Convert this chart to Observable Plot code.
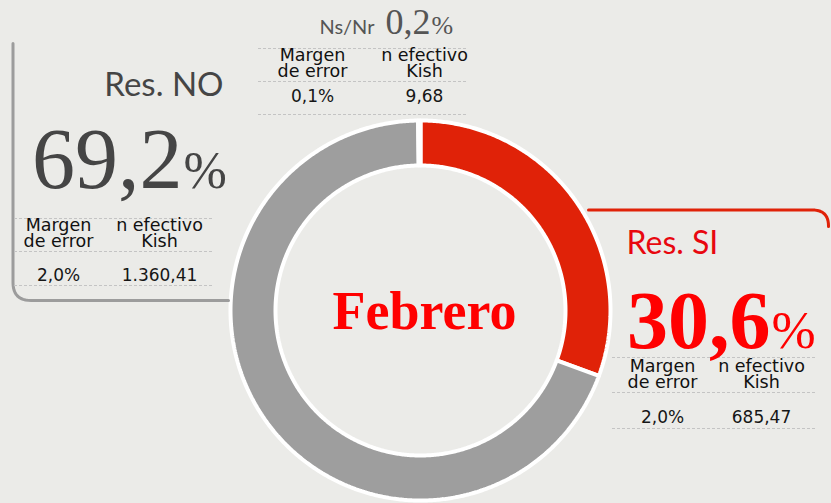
<!DOCTYPE html>
<html><head><meta charset="utf-8">
<script src="https://cdn.jsdelivr.net/npm/d3@7"></script>
<script src="https://cdn.jsdelivr.net/npm/@observablehq/plot@0.6"></script>
<style>
html,body{margin:0;padding:0;background:#ebebe8;}
#chart{width:831px;height:503px;overflow:hidden;}
</style>
</head><body><div id="chart"></div>
<script>
// ---- data ----
const categories = ["Res. SI", "Res. NO", "Ns/Nr"];
const values = [30.6, 69.2, 0.2];
const valueLabels = ["30,6", "69,2", "0,2"];
const marginLabels = ["2,0%", "2,0%", "0,1%"];
const kishLabels = ["685,47", "1.360,41", "9,68"];
const sliceColors = ["#e02208", "#9e9e9e", "#ffffff"];
const centerLabel = "Febrero";
const headerLabels = ["Margen\nde error", "n efectivo\nKish"];

// ---- layout ----
const W = 831, H = 503;
const cx = 420, cy = 310, rOuter = 190, rInner = 145;
const boxes = {
  "Res. SI": {c1: 662, c2: 761, h2: 387, v: 422, dashes: [357, 392, 428], dx1: 612, dx2: 815,
              name: {x: 626, y: 253, anchor: "start"}, num: {x: 770, y: 347}, color: "#ff0000", nameColor: "#e8070f",
              nameSize: 32, numSize: 82, pctSize: 53, bold: true},
  "Res. NO": {c1: 58, c2: 159, h2: 246, v: 280, dashes: [218, 251, 285], dx1: 14, dx2: 214,
              name: {x: 223, y: 95, anchor: "end"}, num: {x: 182, y: 187}, color: "#454545", nameColor: "#454545",
              nameSize: 33, numSize: 86, pctSize: 52, bold: false},
  "Ns/Nr":   {c1: 312, c2: 424, h2: 76, v: 101, dashes: [48, 81, 114], dx1: 258, dx2: 466,
              name: {x: 374, y: 33, anchor: "end"}, num: {x: 430, y: 33}, color: "#555555", nameColor: "#555555",
              nameSize: 20, numSize: 36, pctSize: 26, bold: false}
};

const table = categories.map((c, i) => ({category: c, value: values[i], color: sliceColors[i]}));
const arcs = d3.pie().sort(null).value(d => d.value)(table);

function slicePoints(a) {
  const n = Math.max(2, Math.ceil((a.endAngle - a.startAngle) / (Math.PI / 360)));
  const pts = [];
  for (let k = 0; k <= n; k++) {
    const t = a.startAngle + (a.endAngle - a.startAngle) * k / n;
    pts.push({category: a.data.category, x: cx + rOuter * Math.sin(t), y: cy - rOuter * Math.cos(t)});
  }
  for (let k = n; k >= 0; k--) {
    const t = a.startAngle + (a.endAngle - a.startAngle) * k / n;
    pts.push({category: a.data.category, x: cx + rInner * Math.sin(t), y: cy - rInner * Math.cos(t)});
  }
  pts.push(pts[0]);
  return pts;
}

function cornerPath(points, r) {
  const [p0, p1, p2] = points;
  const out = [p0];
  const d1 = Math.hypot(p1[0]-p0[0], p1[1]-p0[1]), d2 = Math.hypot(p2[0]-p1[0], p2[1]-p1[1]);
  const a = [p1[0] - (p1[0]-p0[0]) * r / d1, p1[1] - (p1[1]-p0[1]) * r / d1];
  const b = [p1[0] + (p2[0]-p1[0]) * r / d2, p1[1] + (p2[1]-p1[1]) * r / d2];
  for (let k = 0; k <= 12; k++) {
    const t = k / 12;
    out.push([(1-t)*(1-t)*a[0] + 2*(1-t)*t*p1[0] + t*t*b[0], (1-t)*(1-t)*a[1] + 2*(1-t)*t*p1[1] + t*t*b[1]]);
  }
  out.push(p2);
  return out.map(([x, y]) => ({x, y}));
}

const leftFrame = cornerPath([[12.5, 43], [12.5, 300], [228, 300]], 18);
const rightFrame = cornerPath([[588, 209.5], [828, 209.5], [828, 226]], 16);

const marks = [];

arcs.forEach(a => {
  marks.push(Plot.line(slicePoints(a), {x: "x", y: "y", fill: a.data.color, stroke: "#ffffff", strokeWidth: 4, strokeLinejoin: "miter"}));
});

marks.push(Plot.line(leftFrame, {x: "x", y: "y", stroke: "#9c9c9c", strokeWidth: 3}));
marks.push(Plot.line(rightFrame, {x: "x", y: "y", stroke: "#e02208", strokeWidth: 3}));

const dashRows = categories.flatMap(c => boxes[c].dashes.map(y => ({y, x1: boxes[c].dx1, x2: boxes[c].dx2})));
marks.push(Plot.ruleY(dashRows, {y: "y", x1: "x1", x2: "x2", stroke: "#c4c4c4", strokeWidth: 1, strokeDasharray: "3,2"}));

const smallFont = "DejaVu Sans";
categories.forEach((c, i) => {
  const b = boxes[c];
  const hdr = [
    {t: headerLabels[0], x: b.c1, y: b.h2}, {t: headerLabels[1], x: b.c2, y: b.h2}
  ];
  marks.push(Plot.text(hdr, {x: "x", y: "y", text: "t", lineAnchor: "bottom", textAnchor: "middle", lineHeight: 0.9,
    fontFamily: smallFont, fontSize: 17.5, fill: "#111111"}));
  const vals = [{t: marginLabels[i], x: b.c1, y: b.v}, {t: kishLabels[i], x: b.c2, y: b.v}];
  marks.push(Plot.text(vals, {x: "x", y: "y", text: "t", lineAnchor: "bottom", textAnchor: "middle",
    fontFamily: smallFont, fontSize: 17, fill: "#161616"}));
  marks.push(Plot.text([{t: c, x: b.name.x, y: b.name.y}], {x: "x", y: "y", text: "t", lineAnchor: "bottom",
    textAnchor: b.name.anchor, fontFamily: "Lato", fontSize: b.nameSize, fill: b.nameColor}));
  marks.push(Plot.text([{t: valueLabels[i], x: b.num.x, y: b.num.y}], {x: "x", y: "y", text: "t", lineAnchor: "bottom",
    textAnchor: "end", fontFamily: "Liberation Serif", fontWeight: b.bold ? "bold" : "normal", fontSize: b.numSize, fill: b.color}));
  marks.push(Plot.text([{t: "%", x: b.num.x + 1, y: b.num.y}], {x: "x", y: "y", text: "t", lineAnchor: "bottom",
    textAnchor: "start", fontFamily: "Liberation Serif", fontSize: b.pctSize, fill: b.color}));
});

marks.push(Plot.text([{t: centerLabel, x: 424, y: 328}], {x: "x", y: "y", text: "t", lineAnchor: "bottom", textAnchor: "middle",
  fontFamily: "Liberation Serif", fontWeight: "bold", fontSize: 54, fill: "#ff0000"}));

const chart = Plot.plot({
  width: W, height: H, margin: 0,
  x: {domain: [0, W], range: [0, W], axis: null},
  y: {domain: [0, H], range: [0, H], axis: null},
  style: {background: "transparent", overflow: "visible"},
  marks
});
document.getElementById("chart").appendChild(chart);
</script>
</body></html>
